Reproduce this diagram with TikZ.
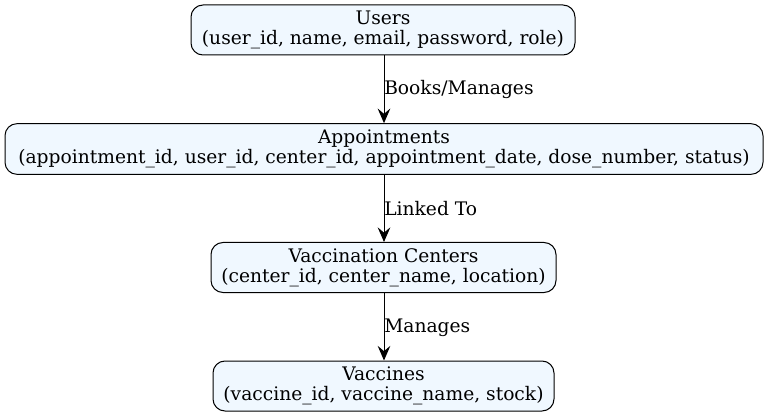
\documentclass[tikz,border=0pt]{standalone}
\usepackage{fontspec}
\setmainfont{DejaVu Serif}
\usetikzlibrary{arrows.meta}
\definecolor{aliceblue}{HTML}{F0F8FF}
\tikzset{
  entity/.style={draw=black, line width=0.75pt, fill=aliceblue, rounded corners=9pt,
    align=center, inner sep=0pt, font=\fontsize{14}{15}\selectfont},
  rel/.style={draw=black, line width=0.75pt, -{Stealth[length=11pt,width=9.5pt,inset=4pt]}},
  lbl/.style={font=\fontsize{14}{15}\selectfont, anchor=west, inner sep=0pt}
}
\begin{document}
\begin{tikzpicture}[x=0.75pt,y=-0.75pt]
\useasboundingbox (0,0) rectangle (768,417);
\node[entity, minimum width=288pt, minimum height=37.5pt] (users) at (383,30)
  {\raisebox{-1pt}{Users}\\\raisebox{-1pt}{(user\_id, name, email, password, role)}};
\node[entity, minimum width=568.5pt, minimum height=38pt] (appt) at (384,149)
  {\raisebox{-1pt}{Appointments}\\\raisebox{-1pt}{(appointment\_id, user\_id, center\_id, appointment\_date, dose\_number, status)}};
\node[entity, minimum width=258.75pt, minimum height=37.5pt] (centers) at (383.5,267.5)
  {\raisebox{-1pt}{Vaccination Centers}\\\raisebox{-1pt}{(center\_id, center\_name, location)}};
\node[entity, minimum width=255.75pt, minimum height=37.5pt] (vacc) at (383.5,386)
  {\raisebox{-1pt}{Vaccines}\\\raisebox{-1pt}{(vaccine\_id, vaccine\_name, stock)}};
\draw[rel] (users.south -| 384,0) -- (appt.north -| 384,0);
\draw[rel] (appt.south -| 384,0) -- (centers.north -| 384,0);
\draw[rel] (centers.south -| 384,0) -- (vacc.north -| 384,0);
\node[lbl] (l1) at (384,89.5) {Books/Manages};
\node[lbl] (l2) at (384,208.5) {Linked To};
\node[lbl] (l3) at (384,327.5) {Manages};
\end{tikzpicture}
\end{document}
